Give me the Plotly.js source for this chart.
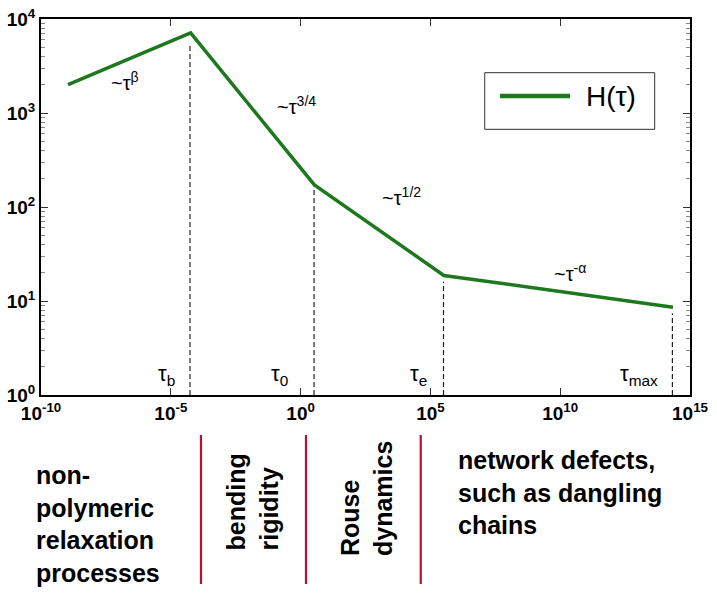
<!DOCTYPE html>
<html>
<head>
<meta charset="utf-8">
<script src="https://cdn.plot.ly/plotly-2.35.2.min.js"></script>
<style>html,body{margin:0;padding:0;background:#fff;}#chart{width:717px;height:600px;}</style>
</head>
<body>
<div id="chart"></div>
<script>
// ---- data ----
const tauBreaks = [1.1e-9, 5.8e-5, 3.4, 3.3e5, 2.2e14];   // τ at the line's corners
const hValues   = [2000, 7100, 172, 18.7, 8.6];            // H(τ) at those corners
const markTau   = [5.5e-5, 3.3, 3.2e5, 2.1e14];            // dashed marker positions
const markTop   = [5400, 165, 16, 7.4];                    // where each dashed marker stops
const markLabels = ['τ<sub>b</sub>', 'τ<sub>0</sub>', 'τ<sub>e</sub>', 'τ<sub>max</sub>'];
const markLabelX = [-4.76, -0.41, 4.95, 13.84];            // log10 position of label right edge
const slopeLabels = ['~τ<sup>β</sup>', '~τ<sup>3/4</sup>', '~τ<sup>1/2</sup>', '~τ<sup>-α</sup>'];
const slopeLabelX = [-6.76, -0.14, 3.9, 10.38];            // log10 x of label centre
const slopeLabelY = [3.33, 3.085, 2.117, 1.30];            // log10 y of label centre
const xTickVals = [1e-10, 1e-5, 1e0, 1e5, 1e10, 1e15];
const xTickText = ['10<sup>-10</sup>', '10<sup>-5</sup>', '10<sup>0</sup>', '10<sup>5</sup>', '10<sup>10</sup>', '10<sup>15</sup>'];
const yTickVals = [1, 10, 100, 1000, 10000];
const yTickText = ['10<sup>0</sup>', '10<sup>1</sup>', '10<sup>2</sup>', '10<sup>3</sup>', '10<sup>4</sup>'];
const yMinorTicks = [2, 3, 4, 5, 6, 7, 8, 9, 20, 30, 40, 50, 60, 70, 80, 90,
                     200, 300, 400, 500, 600, 700, 800, 900, 2000, 3000, 4000, 5000, 6000, 7000, 8000, 9000];
const regionTexts = ['non-<br>polymeric<br>relaxation<br>processes', 'bending<br>rigidity', 'Rouse<br>dynamics', 'network defects,<br>such as dangling<br>chains'];
const seriesName = 'H(τ)';

const FONT = 'Liberation Sans, Arial, Helvetica, sans-serif';
const GREEN = '#1e781e';

// dashed markers built from arrays
const dx = [], dy = [];
markTau.forEach((t, i) => { dx.push(t, t, null); dy.push(1, markTop[i], null); });

const traces = [
  {x: dx, y: dy, mode: 'lines', line: {color: '#222', width: 1.2, dash: '5px,3px'}, showlegend: false, hoverinfo: 'skip'},
  {x: tauBreaks, y: hValues, mode: 'lines', name: seriesName, line: {color: GREEN, width: 3.5}, showlegend: false}
];

const annotations = [];
markLabels.forEach((t, i) => annotations.push({
  text: t, x: markLabelX[i], y: 0.04, xref: 'x', yref: 'y', xanchor: 'right', yanchor: 'bottom',
  showarrow: false, font: {family: FONT, size: 22, color: '#000'}
}));
slopeLabels.forEach((t, i) => annotations.push({
  text: t, x: slopeLabelX[i], y: slopeLabelY[i], xref: 'x', yref: 'y', xanchor: 'center', yanchor: 'middle',
  showarrow: false, font: {family: FONT, size: 20, color: '#000'}
}));
// legend text
annotations.push({text: seriesName, x: 0.8367, y: 0.7952, xref: 'paper', yref: 'paper', xanchor: 'left', yanchor: 'middle',
  showarrow: false, font: {family: FONT, size: 28, color: '#000'}});
// region texts below the chart
const bold = {family: FONT, size: 25, color: '#000', weight: 'bold'};
annotations.push({text: '<b>' + regionTexts[0] + '</b>', x: -0.0108, y: -0.3418, xref: 'paper', yref: 'paper', xanchor: 'left', yanchor: 'middle', align: 'left', showarrow: false, font: bold});
annotations.push({text: '<b>' + regionTexts[1] + '</b>', x: 0.3259, y: -0.2846, xref: 'paper', yref: 'paper', xanchor: 'center', yanchor: 'middle', align: 'left', textangle: -90, showarrow: false, font: bold});
annotations.push({text: '<b>' + regionTexts[2] + '</b>', x: 0.5008, y: -0.2766, xref: 'paper', yref: 'paper', xanchor: 'center', yanchor: 'middle', align: 'left', textangle: -90, showarrow: false, font: bold});
annotations.push({text: '<b>' + regionTexts[3] + '</b>', x: 0.6394, y: -0.2593, xref: 'paper', yref: 'paper', xanchor: 'left', yanchor: 'middle', align: 'left', showarrow: false, font: bold});

const RED = '#b5122e';
const shapes = [
  // legend box and sample line
  {type: 'rect', xref: 'paper', yref: 'paper', x0: 0.6837, x1: 0.9456, y0: 0.7066, y1: 0.8572, line: {color: '#333', width: 1}, fillcolor: '#fff', layer: 'above'},
  {type: 'line', xref: 'paper', yref: 'paper', x0: 0.7072, x1: 0.8151, y0: 0.7952, y1: 0.7952, line: {color: GREEN, width: 4.5}, layer: 'above'},
  // red separators
  {type: 'line', xref: 'paper', yref: 'paper', x0: 0.2465, x1: 0.2465, y0: -0.1064, y1: -0.5027, line: {color: RED, width: 2.2}},
  {type: 'line', xref: 'paper', yref: 'paper', x0: 0.4083, x1: 0.4083, y0: -0.1064, y1: -0.5027, line: {color: RED, width: 2.2}},
  {type: 'line', xref: 'paper', yref: 'paper', x0: 0.5851, x1: 0.5851, y0: -0.1064, y1: -0.5027, line: {color: RED, width: 2.2}}
];

const tickFont = {family: FONT, size: 19, color: '#000', weight: 'bold'};
const layout = {
  width: 717, height: 600,
  margin: {l: 41, r: 27, t: 19, b: 205},
  paper_bgcolor: '#fff', plot_bgcolor: '#fff',
  showlegend: false,
  xaxis: {
    type: 'log', range: [-10, 15], showgrid: false, zeroline: false,
    showline: true, linecolor: '#000', linewidth: 2, mirror: 'allticks',
    ticks: 'inside', ticklen: 7, tickcolor: '#333', tickwidth: 1,
    tickvals: xTickVals, ticktext: xTickText, tickfont: tickFont
  },
  yaxis: {
    type: 'log', range: [0, 4], showgrid: false, zeroline: false,
    showline: true, linecolor: '#000', linewidth: 2, mirror: 'allticks',
    ticks: 'inside', ticklen: 7, tickcolor: '#333', tickwidth: 1,
    tickvals: yTickVals, ticktext: yTickText, tickfont: tickFont,
    minor: {ticks: 'inside', ticklen: 4, tickcolor: '#888', tickwidth: 1, tickmode: 'array', tickvals: yMinorTicks, showgrid: false}
  },
  annotations: annotations,
  shapes: shapes
};

Plotly.newPlot('chart', traces, layout, {staticPlot: true, displayModeBar: false});
</script>
</body>
</html>
